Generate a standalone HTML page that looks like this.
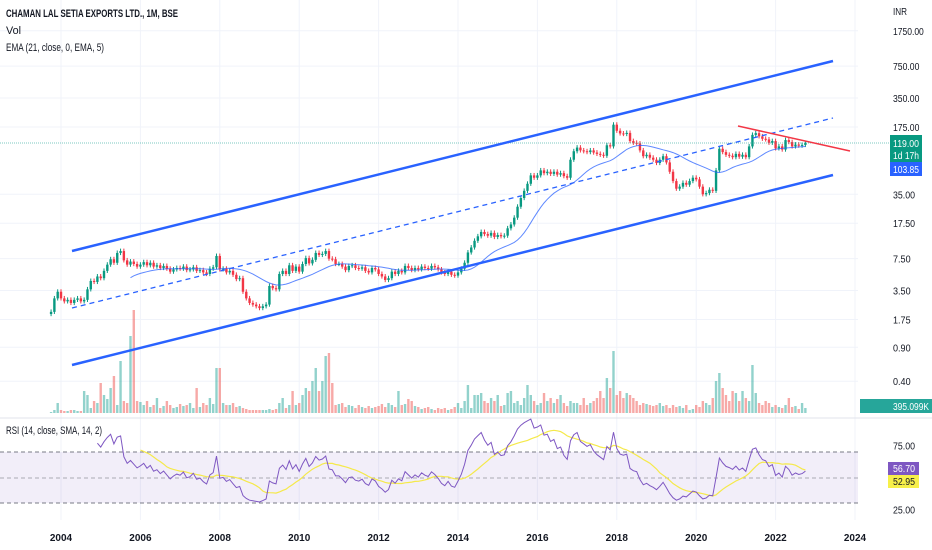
<!DOCTYPE html>
<html><head><meta charset="utf-8">
<style>
body{margin:0;background:#fff;}
svg{display:block;font-family:"Liberation Sans",sans-serif;}
</style></head>
<body>
<svg id="chart" width="932" height="550" viewBox="0 0 932 550" xmlns="http://www.w3.org/2000/svg">
<rect x="0" y="0" width="932" height="550" fill="#ffffff"/>
<g id="grid"></g>
<rect x="0" y="452" width="858" height="51" fill="#7e57c2" fill-opacity="0.1"/>
<line x1="0" y1="452" x2="858" y2="452" stroke="#787b86" stroke-dasharray="4,3" stroke-width="1"/>
<line x1="0" y1="478" x2="858" y2="478" stroke="#787b86" stroke-opacity="0.6" stroke-dasharray="4,3" stroke-width="1"/>
<line x1="0" y1="503" x2="858" y2="503" stroke="#787b86" stroke-dasharray="4,3" stroke-width="1"/>
<line x1="0" y1="418" x2="932" y2="418" stroke="#e0e3eb" stroke-width="1"/>
<g id="vol"></g>
<g id="candles"></g>
<line x1="0" y1="143" x2="890" y2="143" stroke="#26a69a" stroke-opacity="0.6" stroke-dasharray="1,1" stroke-width="1"/>
<path id="ema" fill="none" stroke="#2962ff" stroke-opacity="0.75" stroke-width="1"/>
<line x1="72" y1="251" x2="833" y2="61" stroke="#2962ff" stroke-width="2.5"/>
<line x1="72" y1="365" x2="833" y2="175" stroke="#2962ff" stroke-width="2.5"/>
<line x1="72" y1="308" x2="833" y2="118" stroke="#2962ff" stroke-width="1.3" stroke-dasharray="5,4"/>
<line x1="738" y1="126" x2="850" y2="151" stroke="#f23645" stroke-width="1.5"/>
<path id="rsiSma" fill="none" stroke="#f5e94a" stroke-width="1.2"/>
<path id="rsi" fill="none" stroke="#7e57c2" stroke-width="1"/>
<g id="axes"></g>
<text x="6" y="17" font-size="11" fill="#131722" font-weight="bold" textLength="172" lengthAdjust="spacingAndGlyphs">CHAMAN LAL SETIA EXPORTS LTD., 1M, BSE</text>
<text x="6" y="34" font-size="11" fill="#131722" textLength="15" lengthAdjust="spacingAndGlyphs">Vol</text>
<text x="6" y="51" font-size="11" fill="#131722" textLength="98" lengthAdjust="spacingAndGlyphs">EMA (21, close, 0, EMA, 5)</text>
<text x="6" y="434" font-size="11" fill="#131722" textLength="96" lengthAdjust="spacingAndGlyphs">RSI (14, close, SMA, 14, 2)</text>
<text x="893" y="15" font-size="10" fill="#131722" textLength="14" lengthAdjust="spacingAndGlyphs">INR</text>
<rect x="890" y="135" width="32" height="27" fill="#089981"/>
<text x="893" y="147" font-size="10" fill="#fff" textLength="26" lengthAdjust="spacingAndGlyphs">119.00</text>
<text x="893" y="159" font-size="10" fill="#fff" textLength="26" lengthAdjust="spacingAndGlyphs">1d 17h</text>
<rect x="890" y="162" width="32" height="14" fill="#2962ff"/>
<text x="893" y="173" font-size="10" fill="#fff" textLength="26" lengthAdjust="spacingAndGlyphs">103.85</text>
<rect x="860" y="399" width="72" height="14" fill="#26a69a"/>
<text x="893" y="410" font-size="10" fill="#fff" textLength="36" lengthAdjust="spacingAndGlyphs">395.099K</text>
<rect x="888" y="462" width="31" height="13" fill="#7e57c2"/>
<text x="893" y="472" font-size="10" fill="#fff" textLength="22" lengthAdjust="spacingAndGlyphs">56.70</text>
<rect x="888" y="475" width="31" height="13" fill="#f7f04a"/>
<text x="893" y="485" font-size="10" fill="#131722" textLength="22" lengthAdjust="spacingAndGlyphs">52.95</text>
</svg>
<script>
const startYear = 2003, startMonth = 9; // Oct 2003 (0-based month)
const closes = [
 2.1,2.9,3.4,
 2.9,2.7,2.8,2.6,2.8,2.9,2.7,2.8,3.6,4.4,4.3,4.9,
 4.7,5.6,6.5,7.4,6.8,8.6,9.0,7.2,6.5,7.0,6.6,6.2,
 6.5,6.9,6.4,6.8,6.2,6.4,6.0,6.3,5.9,5.5,5.8,6.0,
 5.9,6.2,5.7,5.8,6.1,5.6,5.7,5.4,5.2,5.9,6.1,8.0,
 5.8,5.9,5.4,5.6,5.1,4.6,4.7,3.4,2.9,2.6,2.5,2.4,
 2.3,2.4,2.5,3.9,3.7,3.6,5.2,5.6,5.2,6.4,5.6,6.2,
 5.5,6.6,7.6,6.7,7.3,8.6,8.2,8.4,9.0,7.5,7.4,6.6,
 6.6,6.2,5.7,6.3,6.4,6.0,5.9,6.1,5.6,5.4,6.0,5.8,
 5.2,4.9,4.5,4.7,5.5,5.2,5.6,5.4,6.3,6.0,5.7,6.0,
 5.8,6.2,6.0,5.9,6.3,6.1,5.8,5.4,5.2,5.5,5.1,5.0,
 5.4,5.9,6.8,8.7,9.8,11.5,12.8,14.2,13.5,13.0,13.9,12.6,
 13.2,12.8,13.0,15.5,17.0,20.0,26.0,32.0,38.0,45.0,55.0,52.0,
 55.0,62.0,58.0,60.0,57.0,60.0,56.0,58.0,54.0,52.0,80.0,98.0,
 107,100,98,96,100,95,92,90,88,113,110,185,
 160,150,148,152,125,120,118,100,87,90,84,80,
 74,80,87,75,60,48,40,42,46,44,48,52,
 50,42,35,36,39,38,62,104,96,90,88,85,
 92,86,90,85,110,145,151,140,132,130,120,125,
 105,110,102,128,122,110,115,112,114,119
];
const volumes = [
 1,3,10,
 3,2,2,3,3,2,2,22,18,5,12,10,
 30,18,14,25,37,8,52,12,10,77,103,12,
 11,8,12,6,8,15,5,7,12,8,5,6,
 9,7,8,10,5,25,6,10,8,15,9,45,
 45,10,8,8,10,6,7,5,4,3,3,3,
 3,3,3,4,3,4,10,15,5,8,22,8,
 10,18,25,22,32,45,22,32,57,60,30,8,
 9,10,6,8,7,5,8,6,5,7,5,6,
 7,9,6,10,8,6,22,8,9,14,12,7,
 6,4,5,6,4,3,5,4,5,3,4,6,
 10,5,12,28,5,18,18,20,12,10,15,12,
 18,7,8,20,22,10,12,8,15,28,18,12,
 8,10,20,12,15,10,14,18,10,7,12,10,
 10,8,15,8,10,12,15,22,15,35,25,62,
 18,22,15,20,18,15,12,8,10,9,8,7,
 8,10,7,8,5,8,6,7,5,8,3,4,
 8,6,12,10,8,15,32,40,25,18,12,22,
 20,12,22,15,12,48,20,10,8,12,10,6,
 8,6,5,8,15,6,7,4,10,5
];
const priceTicks = [1750,750,350,175,35,17.5,7.5,3.5,1.75,0.9,0.4];
const yearTicks = [2004,2006,2008,2010,2012,2014,2016,2018,2020,2022,2024];
const rsiTicks = [75,25];

const NS = "http://www.w3.org/2000/svg";
function xTime(t){ return 61 + (t-2004)*39.7; }
function xIdx(i){ return xTime(startYear + (startMonth + i)/12); }
function yPrice(p){ return 127 - 41.8*Math.log(p/175); }
function yVol(v){ return 413 - v; }
function yRsi(r){ return 452 + (70 - r)*1.275; }
function mk(tag, attrs, parent){ const e=document.createElementNS(NS,tag); for(const k in attrs) e.setAttribute(k,attrs[k]); parent.appendChild(e); return e; }

const grid = document.getElementById('grid');
const axes = document.getElementById('axes');
yearTicks.forEach(y=>{
  const x = xTime(y);
  const l = mk('line',{x1:x,y1:0,x2:x,y2:520,stroke:'#f0f3fa','stroke-width':1},grid);
  
  
  const t = mk('text',{x:x,y:541,'font-size':10,'font-weight':'bold','text-anchor':'middle',fill:'#131722'},axes);
  t.textContent = y;
  
  
});
priceTicks.forEach(p=>{
  const y = yPrice(p);
  const l = mk('line',{x1:0,y1:y,x2:858,y2:y,stroke:'#f0f3fa','stroke-width':1},grid);
  
  
  const txt = p.toFixed(2);
  const t = mk('text',{x:893,y:y+4,'font-size':10,fill:'#131722',textLength:txt.length*4.4,lengthAdjust:'spacingAndGlyphs'},axes);
  t.textContent = txt;
  
  
});
rsiTicks.forEach(r=>{
  const y = yRsi(r);
  const t = mk('text',{x:893,y:y+4,'font-size':10,fill:'#131722',textLength:22,lengthAdjust:'spacingAndGlyphs'},axes);
  t.textContent = r.toFixed(2);
  
  
});

const cg = document.getElementById('candles');
const vg = document.getElementById('vol');
closes.forEach((c,i)=>{
  const o = i===0 ? c*0.95 : closes[i-1];
  const up = c >= o;
  const col = up ? '#089981' : '#f23645';
  const hi = Math.max(o,c)*1.06, lo = Math.min(o,c)*0.95;
  const x = xIdx(i);
  const w = mk('line',{x1:x,y1:yPrice(hi),x2:x,y2:yPrice(lo),stroke:col,'stroke-width':1},cg);
  
  
  const yt = yPrice(Math.max(o,c)), yb = yPrice(Math.min(o,c));
  const b = mk('rect',{x:x-1.2,y:yt,width:2.4,height:Math.max(1,yb-yt),fill:col},cg);
  
  
  const v = volumes[i];
  const vb = mk('rect',{x:x-1.2,y:yVol(v),width:2.4,height:v,fill:up?'#26a69a':'#ef5350','fill-opacity':0.5},vg);
  
  
});

// EMA 21
let ema=[], k=2/22, s=0;
for(let i=0;i<closes.length;i++){
  if(i<21){ s+=closes[i]; ema.push(i===20? s/21 : null); }
  else ema.push(closes[i]*k + ema[i-1]*(1-k));
}
let d='';
for(let i=24;i<closes.length;i++){
  let a=0; for(let j=0;j<5;j++) a+=ema[i-j]; a/=5;
  d += (d?'L':'M') + xIdx(i).toFixed(1)+','+yPrice(a).toFixed(1);
}
document.getElementById('ema').setAttribute('d',d);

// RSI 14 (Wilder)
let rsi=new Array(closes.length).fill(null), ag=0, al=0;
for(let i=1;i<closes.length;i++){
  const ch = closes[i]-closes[i-1], g=Math.max(ch,0), l=Math.max(-ch,0);
  if(i<=14){ ag+=g/14; al+=l/14; if(i===14) rsi[i]=100-100/(1+ag/(al||1e-9)); }
  else { ag=(ag*13+g)/14; al=(al*13+l)/14; rsi[i]=100-100/(1+ag/(al||1e-9)); }
}
let dr='', ds='';
for(let i=14;i<closes.length;i++){
  dr += (dr?'L':'M') + xIdx(i).toFixed(1)+','+yRsi(rsi[i]).toFixed(1);
  if(i>=27){ let a=0; for(let j=0;j<14;j++) a+=rsi[i-j]; a/=14;
    ds += (ds?'L':'M') + xIdx(i).toFixed(1)+','+yRsi(a).toFixed(1); }
}
document.getElementById('rsi').setAttribute('d',dr);
document.getElementById('rsiSma').setAttribute('d',ds);
</script>
</body></html>
